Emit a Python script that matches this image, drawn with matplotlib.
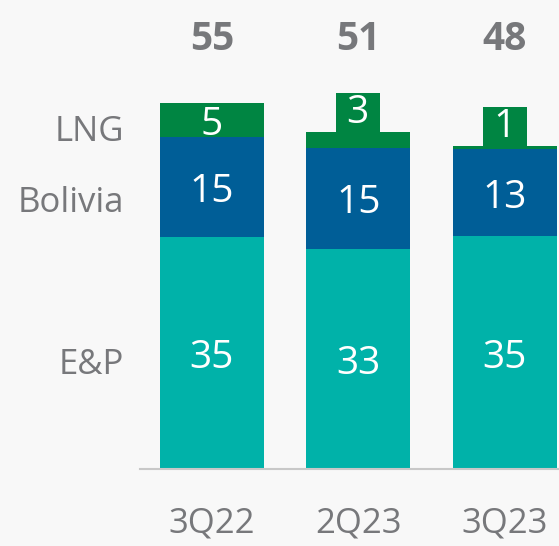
import matplotlib
matplotlib.use("Agg")
import matplotlib.pyplot as plt
from matplotlib.transforms import offset_copy

plt.rcParams["font.family"] = ["Open Sans", "DejaVu Sans"]

# --- data ---
quarters = ["3Q22", "2Q23", "3Q23"]
segments = ["E&P", "Bolivia", "LNG"]
ep = [34.9, 33.1, 35.0]
bolivia = [15.0, 15.2, 13.1]
lng = [5.1, 2.4, 0.5]
ep_labels = ["35", "33", "35"]
bolivia_labels = ["15", "15", "13"]
lng_labels = ["5", "3", "1"]
totals = ["55", "51", "48"]

colors = {"E&P": "#00b2a9", "Bolivia": "#005e97", "LNG": "#008542"}
grey = "#77787b"
bg = "#f8f8f8"

fig = plt.figure(figsize=(5.59, 5.46), dpi=100, facecolor=bg)
# axes spans from the baseline up to the top edge, left edge at the axis line start
ax = fig.add_axes([140 / 559, (546 - 469) / 546, 419 / 559, 469 / 546])
ax.set_facecolor(bg)

x = list(range(len(quarters)))
w = 0.71

ax.bar(x, ep, width=w, color=colors["E&P"], zorder=2)
ax.bar(x, bolivia, width=w, bottom=ep, color=colors["Bolivia"], zorder=2)
base2 = [a + b for a, b in zip(ep, bolivia)]
ax.bar(x, lng, width=w, bottom=base2, color=colors["LNG"], zorder=2)

# nudge numbers down a little so the digits sit centred in the segment
lowered = offset_copy(ax.transData, fig=fig, y=-5, units="dots")
num_kw = dict(color="white", fontsize=28, ha="center", va="center", zorder=4)
for i in x:
    ax.text(i, ep[i] / 2, ep_labels[i], transform=lowered, **num_kw)
    ax.text(i, ep[i] + bolivia[i] / 2, bolivia_labels[i], transform=lowered, **num_kw)
    top = base2[i] + lng[i]
    if lng[i] >= 4:
        ax.text(i, base2[i] + lng[i] / 2, lng_labels[i], transform=lowered, **num_kw)
    else:
        # small segments get their label on a green tab sitting on the bar
        ax.text(i, top, " " + lng_labels[i] + " ", color="white", fontsize=28,
                ha="center", va="bottom", zorder=4,
                bbox=dict(facecolor=colors["LNG"], edgecolor="none",
                          boxstyle="square,pad=0.02"))
    ax.text(i, 0.915, totals[i], transform=ax.get_xaxis_transform(),
            color=grey, fontsize=28, fontweight="bold", ha="center", va="center")

# segment names to the left of the first bar
mids = [ep[0] / 2, ep[0] + bolivia[0] / 2, base2[0] + lng[0] / 2]
shift = [1.8, 2.4, 1.8]
for name, m, s in zip(segments, mids, shift):
    ax.text(-0.6, m - s, name, color=grey, fontsize=25, ha="right", va="center")

ax.set_xlim(-0.49, 2.37)
ax.set_ylim(0, 70.5)

for s in ["top", "right", "left"]:
    ax.spines[s].set_visible(False)
ax.spines["bottom"].set_color("#c8c8c8")
ax.spines["bottom"].set_linewidth(1.5)
ax.set_yticks([])
ax.set_xticks(x)
ax.set_xticklabels(quarters, fontsize=25, color=grey)
ax.tick_params(axis="x", length=0, pad=27)

fig.savefig("out.png", dpi=100, facecolor=bg)
